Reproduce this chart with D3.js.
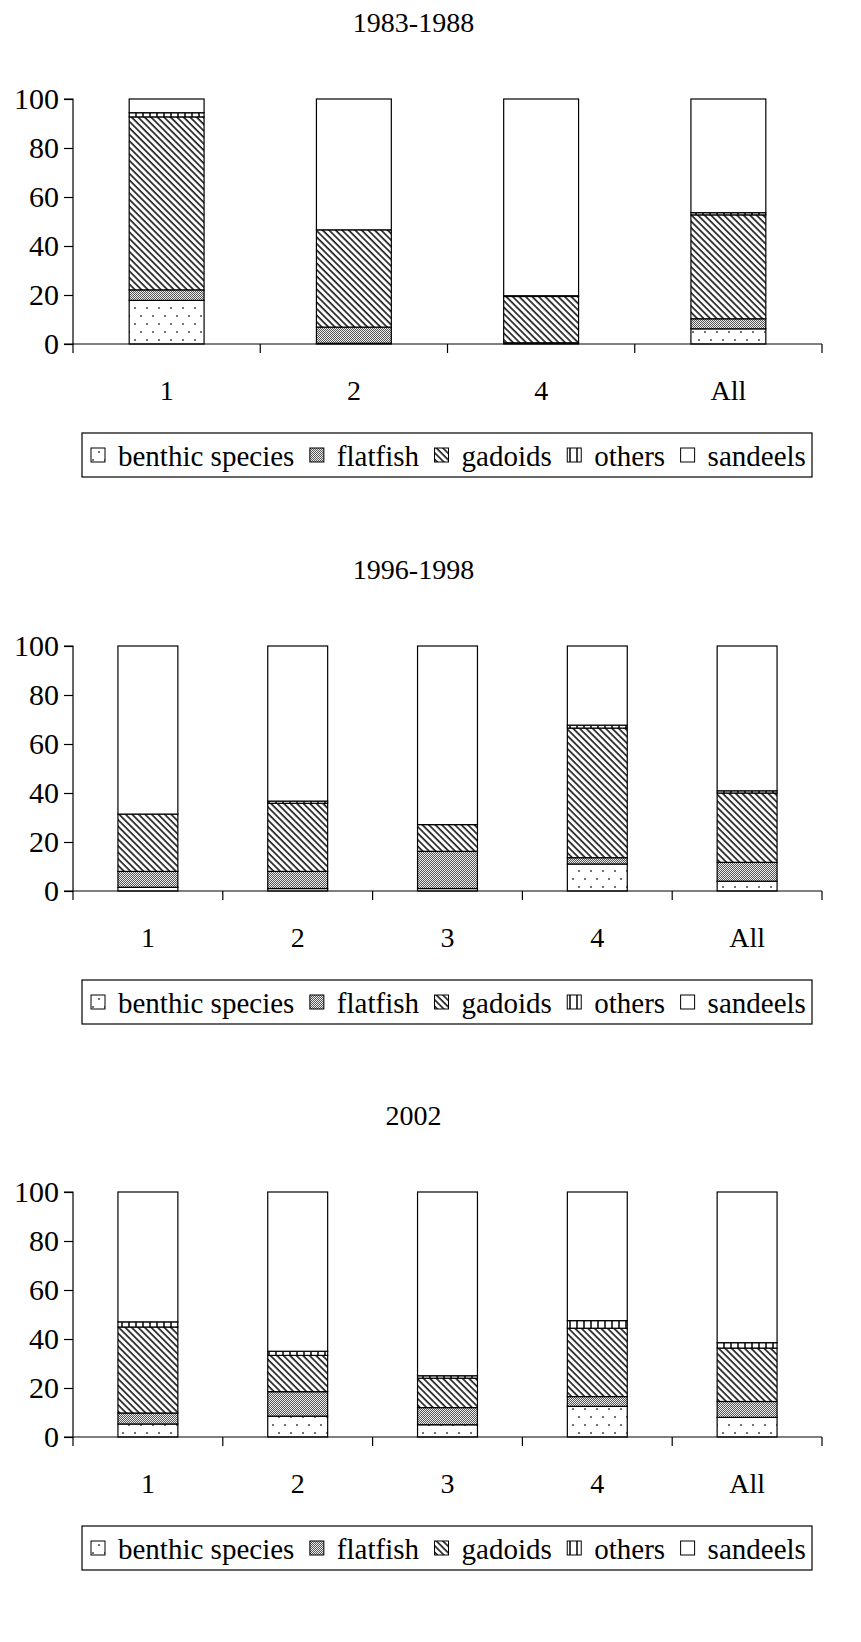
<!DOCTYPE html>
<html>
<head>
<meta charset="utf-8">
<script src="https://cdn.jsdelivr.net/npm/d3@7"></script>
<style>
  body { margin: 0; background: #fff; }
  svg text { font-family: "Liberation Serif", "Times New Roman", serif; fill: #000; }
</style>
</head>
<body>
<svg id="chart"></svg>
<script>
const series = ["benthic species", "flatfish", "gadoids", "others", "sandeels"];
const yTicks = [0, 20, 40, 60, 80, 100];

// 1983-1988
const titleA = "1983-1988";
const catsA = ["1", "2", "4", "All"];
const benthicA = [17.8, 0.3, 0, 6.2];
const flatfishA = [4.3, 6.6, 0.5, 4.1];
const gadoidsA = [70.6, 39.7, 18.9, 42.4];
const othersA = [1.7, 0, 0.3, 0.9];
const sandeelsA = [5.6, 53.4, 80.3, 46.4];

// 1996-1998
const titleB = "1996-1998";
const catsB = ["1", "2", "3", "4", "All"];
const benthicB = [1.5, 1, 1, 11, 4];
const flatfishB = [6.5, 7, 15.2, 2.6, 7.7];
const gadoidsB = [23.4, 27.8, 10.9, 52.9, 28.3];
const othersB = [0, 0.9, 0, 1.2, 0.9];
const sandeelsB = [68.6, 63.3, 72.9, 32.3, 59.1];

// 2002
const titleC = "2002";
const catsC = ["1", "2", "3", "4", "All"];
const benthicC = [5.3, 8.5, 5, 12.5, 8];
const flatfishC = [4.5, 10, 7, 4, 6.5];
const gadoidsC = [35.1, 14.8, 12, 27.9, 21.8];
const othersC = [2.1, 1.7, 1, 3.1, 2.2];
const sandeelsC = [53, 65, 75, 52.5, 61.5];

const W = 861, H = 1642;
const svg = d3.select("#chart").attr("width", W).attr("height", H)
  .style("font-family", "'Liberation Serif', serif");

// fill patterns
const defs = svg.append("defs");

const pBenthic = defs.append("pattern").attr("id", "pat0")
  .attr("patternUnits", "userSpaceOnUse").attr("width", 12).attr("height", 16);
pBenthic.append("rect").attr("width", 12).attr("height", 16).attr("fill", "#fff");
pBenthic.append("circle").attr("cx", 3).attr("cy", 4).attr("r", 1).attr("fill", "#444");
pBenthic.append("circle").attr("cx", 9).attr("cy", 12).attr("r", 1).attr("fill", "#444");

const pFlat = defs.append("pattern").attr("id", "pat1")
  .attr("patternUnits", "userSpaceOnUse").attr("width", 2).attr("height", 2);
pFlat.append("rect").attr("width", 2).attr("height", 2).attr("fill", "#eee");
pFlat.append("rect").attr("width", 1).attr("height", 1).attr("fill", "#555");
pFlat.append("rect").attr("x", 1).attr("y", 1).attr("width", 1).attr("height", 1).attr("fill", "#555");

const pGad = defs.append("pattern").attr("id", "pat2")
  .attr("patternUnits", "userSpaceOnUse").attr("width", 4.6).attr("height", 10)
  .attr("patternTransform", "rotate(-45)");
pGad.append("rect").attr("width", 4.6).attr("height", 10).attr("fill", "#fff");
pGad.append("line").attr("x1", 1).attr("x2", 1).attr("y1", 0).attr("y2", 10)
  .attr("stroke", "#222").attr("stroke-width", 1.7);

const pOth = defs.append("pattern").attr("id", "pat3")
  .attr("patternUnits", "userSpaceOnUse").attr("width", 7).attr("height", 10);
pOth.append("rect").attr("width", 7).attr("height", 10).attr("fill", "#fff");
pOth.append("line").attr("x1", 3).attr("x2", 3).attr("y1", 0).attr("y2", 10)
  .attr("stroke", "#000").attr("stroke-width", 1.5);

const fills = ["url(#pat0)", "url(#pat1)", "url(#pat2)", "url(#pat3)", "#fff"];

function drawPanel(top, title, cats, cols) {
  const g = svg.append("g").attr("transform", `translate(0, ${top})`);
  const left = 73, right = 822, plotTop = 99, plotBottom = 344;

  const rows = cats.map((c, i) => {
    const r = { cat: c };
    series.forEach((s, j) => (r[s] = cols[j][i]));
    return r;
  });
  const stacked = d3.stack().keys(series)(rows);

  const x = d3.scaleBand().domain(cats).range([left, right]);
  const y = d3.scaleLinear().domain([0, 100]).range([plotBottom, plotTop]);
  const barW = x.bandwidth() * 0.4;

  g.append("text")
    .attr("x", W / 2 - 17).attr("y", 32)
    .attr("text-anchor", "middle").attr("font-size", 28)
    .text(title);

  stacked.forEach((layer, j) => {
    g.append("g").selectAll("rect")
      .data(layer)
      .join("rect")
      .attr("x", d => x(d.data.cat) + (x.bandwidth() - barW) / 2)
      .attr("y", d => y(d[1]))
      .attr("width", barW)
      .attr("height", d => y(d[0]) - y(d[1]))
      .attr("fill", fills[j])
      .attr("stroke", "#000")
      .attr("stroke-width", 1.2);
  });

  // y axis
  const yAxis = d3.axisLeft(y).tickValues(yTicks).tickSize(9).tickPadding(5);
  const ya = g.append("g").attr("transform", `translate(${left}, 0)`).call(yAxis);
  ya.attr("font-family", null);
  ya.select(".domain").attr("stroke", "#000").attr("stroke-width", 1.2)
    .attr("d", `M-9,${plotTop}H0V${plotBottom}H-9`);
  ya.selectAll(".tick line").attr("stroke", "#000").attr("stroke-width", 1.2);
  ya.selectAll(".tick text").attr("font-size", 30)
    .style("font-family", "'Liberation Serif', serif").attr("fill", "#000");

  // x axis: ticks on the band edges, labels at the centres
  const edges = cats.map(c => x(c)).concat([right]);
  g.append("line").attr("x1", left).attr("x2", right)
    .attr("y1", plotBottom).attr("y2", plotBottom)
    .attr("stroke", "#000").attr("stroke-width", 1.2);
  g.selectAll(".xt").data(edges).join("line")
    .attr("x1", d => d).attr("x2", d => d)
    .attr("y1", plotBottom).attr("y2", plotBottom + 9)
    .attr("stroke", "#000").attr("stroke-width", 1.2);
  g.selectAll(".xl").data(cats).join("text")
    .attr("x", d => x(d) + x.bandwidth() / 2)
    .attr("y", 400)
    .attr("text-anchor", "middle").attr("font-size", 28)
    .text(d => d);

  // legend
  const leg = g.append("g");
  leg.append("rect").attr("x", 82).attr("y", 433).attr("width", 730).attr("height", 44)
    .attr("fill", "#fff").attr("stroke", "#000").attr("stroke-width", 1.2);
  let cx = 91;
  series.forEach((s, j) => {
    leg.append("rect").attr("x", cx).attr("y", 448).attr("width", 14).attr("height", 14)
      .attr("fill", fills[j]).attr("stroke", "#000").attr("stroke-width", 1);
    const t = leg.append("text").attr("x", cx + 27).attr("y", 466)
      .attr("font-size", 29).text(s);
    cx += 27 + t.node().getComputedTextLength() + 15.5;
  });
}

drawPanel(0, titleA, catsA, [benthicA, flatfishA, gadoidsA, othersA, sandeelsA]);
drawPanel(547, titleB, catsB, [benthicB, flatfishB, gadoidsB, othersB, sandeelsB]);
drawPanel(1093, titleC, catsC, [benthicC, flatfishC, gadoidsC, othersC, sandeelsC]);
</script>
</body>
</html>
